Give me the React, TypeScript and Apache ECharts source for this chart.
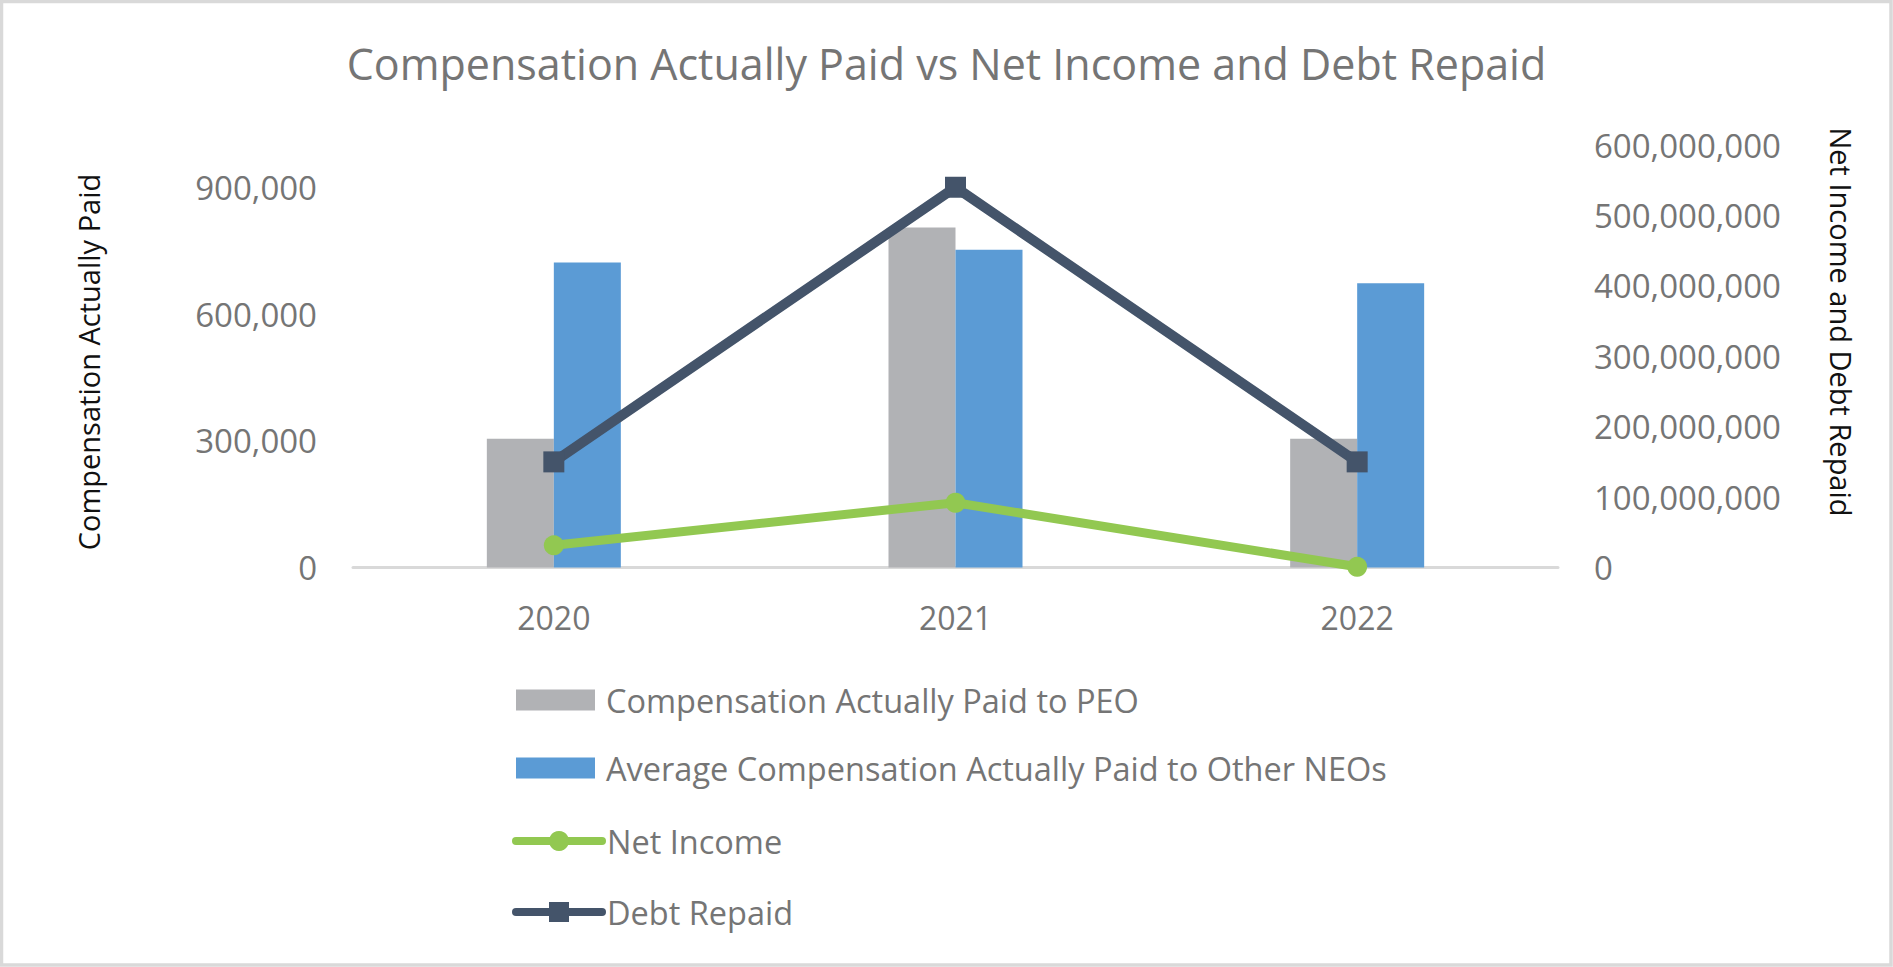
import React, { useEffect, useRef } from "react";
import * as echarts from "echarts";

const TITLE = "Compensation Actually Paid vs Net Income and Debt Repaid";
const LEFT_AXIS_NAME = "Compensation Actually Paid";
const RIGHT_AXIS_NAME = "Net Income and Debt Repaid";

const years = ["2020", "2021", "2022"];

const seriesNames = [
  "Compensation Actually Paid to PEO",
  "Average Compensation Actually Paid to Other NEOs",
  "Net Income",
  "Debt Repaid",
];

const capPEO = [305000, 805000, 305000];
const capOtherNEOs = [722000, 752000, 673000];
const netIncome = [31500000, 92000000, 1000000];
const debtRepaid = [150000000, 540000000, 150000000];

const leftMin = 0;
const leftMax = 1000000;
const leftInterval = 300000;
const rightMin = 0;
const rightMax = 600000000;
const rightInterval = 100000000;

const FONT = '"Open Sans", sans-serif';
const GREY_TEXT = "#757575";
const COLORS = ["#B1B2B5", "#5B9BD5", "#92C851", "#44546A"];

export default function App() {
  const ref = useRef<HTMLDivElement>(null);

  useEffect(() => {
    if (!ref.current) return;
    const chart = echarts.init(ref.current, undefined, { renderer: "svg" });
    const fmt = (v: number) => Number(v).toLocaleString("en-US");
    const option: any = {
      animation: false,
      backgroundColor: "#ffffff",
      title: {
        text: TITLE,
        left: "center",
        top: 37,
        textStyle: {
          fontFamily: FONT,
          fontSize: 43,
          fontWeight: "normal",
          color: GREY_TEXT,
        },
      },
      grid: {
        left: 353,
        right: 335,
        top: 145,
        bottom: 399.5,
        containLabel: false,
        outerBoundsMode: "none",
      },
      xAxis: {
        type: "category",
        data: years,
        axisLine: { lineStyle: { color: "#D9D9D9", width: 3 } },
        axisTick: { show: false },
        splitLine: { show: false },
        axisLabel: {
          margin: 34,
          fontSize: 32,
          lineHeight: 32,
          color: GREY_TEXT,
          fontFamily: FONT,
        },
      },
      yAxis: [
        {
          type: "value",
          position: "left",
          min: leftMin,
          max: leftMax,
          interval: leftInterval,
          axisLine: { show: false },
          axisTick: { show: false },
          splitLine: { show: false },
          axisLabel: {
            margin: 36,
            fontSize: 33,
            color: GREY_TEXT,
            fontFamily: FONT,
            showMaxLabel: false,
            formatter: fmt,
          },
        },
        {
          type: "value",
          position: "right",
          min: rightMin,
          max: rightMax,
          interval: rightInterval,
          axisLine: { show: false },
          axisTick: { show: false },
          splitLine: { show: false },
          axisLabel: {
            margin: 36,
            fontSize: 33,
            color: GREY_TEXT,
            fontFamily: FONT,
            formatter: fmt,
          },
        },
      ],
      legend: [
        {
          data: [seriesNames[0], seriesNames[1]],
          orient: "vertical",
          left: 516,
          top: 683.5,
          padding: 0,
          itemWidth: 79,
          itemHeight: 21,
          itemGap: 35,
          icon: "rect",
          selectedMode: false,
          textStyle: {
            fontFamily: FONT,
            fontSize: 32.5,
            lineHeight: 33,
            color: GREY_TEXT,
            padding: [0, 0, 0, 6],
          },
        },
        {
          data: [seriesNames[2], seriesNames[3]],
          orient: "vertical",
          left: 512,
          top: 824.5,
          padding: 0,
          itemWidth: 86,
          itemHeight: 25,
          itemGap: 38,
          selectedMode: false,
          lineStyle: { width: 8, cap: "round" },
          textStyle: {
            fontFamily: FONT,
            fontSize: 32.5,
            lineHeight: 33,
            color: GREY_TEXT,
          },
        },
      ],
      series: [
        {
          name: seriesNames[0],
          type: "bar",
          yAxisIndex: 0,
          data: capPEO,
          barWidth: 67,
          barGap: "0%",
          itemStyle: { color: COLORS[0] },
          emphasis: { disabled: true },
        },
        {
          name: seriesNames[1],
          type: "bar",
          yAxisIndex: 0,
          data: capOtherNEOs,
          barWidth: 67,
          barGap: "0%",
          itemStyle: { color: COLORS[1] },
          emphasis: { disabled: true },
        },
        {
          name: seriesNames[2],
          type: "line",
          yAxisIndex: 1,
          data: netIncome,
          symbol: "circle",
          symbolSize: 20,
          lineStyle: { width: 9, color: COLORS[2] },
          itemStyle: { color: COLORS[2] },
          emphasis: { disabled: true },
          z: 3,
        },
        {
          name: seriesNames[3],
          type: "line",
          yAxisIndex: 1,
          data: debtRepaid,
          symbol: "rect",
          symbolSize: 21,
          lineStyle: { width: 10, color: COLORS[3] },
          itemStyle: { color: COLORS[3] },
          emphasis: { disabled: true },
          z: 4,
        },
      ],
      graphic: [
        {
          type: "rect",
          silent: true,
          z: -10,
          shape: { x: 1.5, y: 1.5, width: 1889.5, height: 963.5 },
          style: { fill: "none", stroke: "#D9D9D9", lineWidth: 3.5 },
        },
        {
          type: "text",
          x: 88,
          y: 362,
          rotation: Math.PI / 2,
          style: {
            text: LEFT_AXIS_NAME,
            fontFamily: FONT,
            fontSize: 29,
            fill: "#111111",
            textAlign: "center",
            textVerticalAlign: "middle",
          },
        },
        {
          type: "text",
          x: 1841,
          y: 322,
          rotation: -Math.PI / 2,
          style: {
            text: RIGHT_AXIS_NAME,
            fontFamily: FONT,
            fontSize: 29,
            fill: "#111111",
            textAlign: "center",
            textVerticalAlign: "middle",
          },
        },
      ],
    };
    chart.setOption(option);
    return () => chart.dispose();
  }, []);

  return (
    <div
      ref={ref}
      style={{
        position: "fixed",
        left: 0,
        top: 0,
        width: 1893,
        height: 967,
        background: "#ffffff",
      }}
    />
  );
}
